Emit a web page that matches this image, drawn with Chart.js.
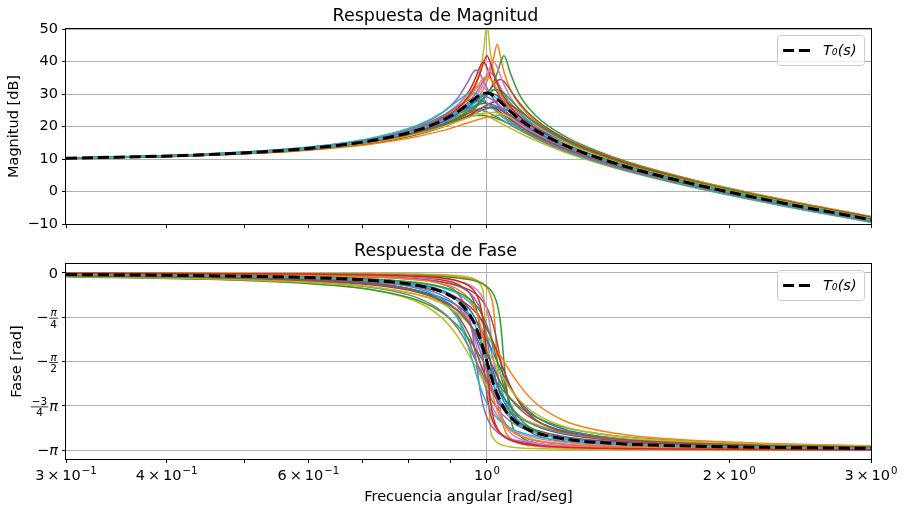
<!DOCTYPE html>
<html>
<head>
<meta charset="utf-8">
<script src="https://cdn.jsdelivr.net/npm/chart.js@4.4.0/dist/chart.umd.min.js"></script>
<style>
  body { margin: 0; background: #fff; }
  canvas { position: absolute; left: 0; }
  #magChart { top: 0; }
  #phaseChart { top: 240px; }
</style>
</head>
<body>
<canvas id="magChart" width="905" height="240"></canvas>
<canvas id="phaseChart" width="905" height="272"></canvas>
<script>
// angular frequency samples [rad/seg]
const freq = [0.3, 0.45, 0.6, 0.72, 0.82, 0.88, 0.92, 0.95, 0.96, 0.97, 0.98, 0.99, 1.0,
              1.01, 1.02, 1.03, 1.04, 1.05, 1.07, 1.1, 1.15, 1.25, 1.45, 1.8, 2.3, 3.0];

const freqTicks = [0.3, 0.4, 0.5, 0.6, 0.7, 0.8, 0.9, 1, 2, 3];
// [mantissa, exponent] of each tick label, null = unlabelled minor tick
const freqTickLabels = [['3', '−1'], ['4', '−1'], null, ['6', '−1'], null, null, null,
                        ['', '0'], ['2', '0'], ['3', '0']];

const phaseTicks = [0, -Math.PI / 4, -Math.PI / 2, -3 * Math.PI / 4, -Math.PI];
const phaseTickLabels = [
  { lead: '0' },
  { lead: '−', num: 'π', den: '4' },
  { lead: '−', num: 'π', den: '2' },
  { num: '−3', den: '4', tail: 'π' },
  { lead: '−π' }
];

// nominal T0(s)
const magNominal = [10.22, 11.35, 13.25, 15.67, 18.88, 21.83, 24.56, 27.14, 28.06, 28.94, 29.69, 30.19, 30.32,
                    30.02, 29.37, 28.5, 27.52, 26.51, 24.59, 22.08, 18.8, 14.23, 8.49, 2.37, -3.26, -8.67];
const phaseNominal = [-0.030, -0.051, -0.084, -0.134, -0.222, -0.338, -0.495, -0.720, -0.834, -0.976, -1.149, -1.351, -1.571,
                      -1.789, -1.986, -2.152, -2.288, -2.397, -2.554, -2.701, -2.831, -2.944, -3.024, -3.069, -3.093, -3.108];

// perturbed plants (magnitude, dB)
const magRuns = [
  [10.22, 11.36, 13.28, 15.75, 19.09, 22.33, 25.67, 29.62, 31.51, 33.9, 37.28, 42.78, 51.34, 42.69, 37.1, 33.63, 31.12, 29.17, 26.18, 22.96, 19.23, 14.4, 8.55, 2.4, -3.25, -8.66],
  [10.17, 11.24, 13.0, 15.23, 18.13, 20.77, 23.28, 25.92, 26.98, 28.25, 29.76, 31.59, 33.91, 37.02, 41.45, 45.32, 41.33, 36.84, 31.24, 26.38, 21.54, 15.91, 9.56, 3.15, -2.61, -8.08],
  [10.14, 11.16, 12.83, 14.92, 17.58, 19.93, 22.08, 24.16, 25.02, 25.98, 27.07, 28.32, 29.77, 31.54, 33.71, 36.44, 39.74, 41.8, 36.22, 29.34, 23.33, 16.99, 10.25, 3.65, -2.19, -7.7],
  [10.24, 11.41, 13.38, 15.94, 19.46, 22.89, 26.53, 30.89, 32.96, 35.48, 38.31, 39.86, 38.16, 35.25, 32.65, 30.5, 28.71, 27.2, 24.73, 21.91, 18.49, 13.92, 8.22, 2.14, -3.46, -8.86],
  [10.2, 11.32, 13.18, 15.56, 18.7, 21.66, 24.54, 27.64, 28.95, 30.47, 32.2, 34.09, 35.81, 36.53, 35.65, 33.82, 31.85, 30.05, 27.06, 23.72, 19.84, 14.84, 8.88, 2.65, -3.04, -8.47],
  [10.16, 11.2, 12.92, 15.05, 17.78, 20.21, 22.43, 24.62, 25.5, 26.47, 27.54, 28.74, 30.06, 31.48, 32.9, 34.03, 34.44, 33.87, 31.11, 26.95, 22.12, 16.34, 9.88, 3.39, -2.4, -7.89],
  [10.26, 11.46, 13.46, 16.09, 19.7, 23.22, 26.75, 30.24, 31.38, 32.23, 32.5, 32.06, 31.08, 29.82, 28.52, 27.26, 26.09, 25.0, 23.09, 20.73, 17.67, 13.37, 7.86, 1.89, -3.68, -9.06],
  [10.19, 11.28, 13.07, 15.34, 18.29, 20.94, 23.38, 25.76, 26.68, 27.66, 28.67, 29.67, 30.56, 31.17, 31.34, 31.0, 30.25, 29.25, 27.06, 24.09, 20.28, 15.23, 9.17, 2.9, -2.82, -8.27],
  [10.27, 11.49, 13.54, 16.21, 19.85, 23.24, 26.18, 28.17, 28.51, 28.57, 28.34, 27.83, 27.15, 26.35, 25.5, 24.64, 23.81, 23.0, 21.5, 19.52, 16.81, 12.81, 7.49, 1.61, -3.9, -9.26],
  [10.21, 11.34, 13.21, 15.59, 18.66, 21.34, 23.61, 25.46, 26.03, 26.52, 26.9, 27.11, 27.12, 26.94, 26.56, 26.05, 25.43, 24.76, 23.34, 21.3, 18.38, 14.05, 8.43, 2.35, -3.27, -8.67],
  [10.16, 11.21, 12.92, 15.05, 17.69, 19.89, 21.7, 23.23, 23.74, 24.25, 24.73, 25.16, 25.51, 25.76, 25.89, 25.88, 25.72, 25.44, 24.55, 22.83, 19.91, 15.31, 9.36, 3.08, -2.64, -8.1],
  [10.28, 11.51, 13.56, 16.18, 19.54, 22.18, 23.79, 24.33, 24.29, 24.15, 23.89, 23.55, 23.13, 22.65, 22.14, 21.61, 21.06, 20.52, 19.44, 17.92, 15.68, 12.09, 7.05, 1.31, -4.15, -9.47],
  [10.22, 11.35, 13.22, 15.54, 18.4, 20.61, 22.14, 23.06, 23.25, 23.38, 23.42, 23.38, 23.25, 23.04, 22.75, 22.4, 22.01, 21.58, 20.65, 19.21, 16.94, 13.2, 7.95, 2.04, -3.51, -8.88],
  [10.12, 11.12, 12.71, 14.64, 16.93, 18.73, 20.12, 21.23, 21.59, 21.95, 22.28, 22.6, 22.87, 23.11, 23.28, 23.39, 23.42, 23.38, 23.06, 22.12, 19.96, 15.77, 9.86, 3.52, -2.25, -7.73],
  [10.27, 11.5, 13.58, 16.34, 20.23, 24.26, 28.79, 34.36, 36.41, 37.36, 36.26, 34.07, 31.89, 29.95, 28.28, 26.83, 25.56, 24.43, 22.5, 20.16, 17.18, 12.98, 7.56, 1.64, -3.9, -9.26],
  [10.19, 11.28, 13.09, 15.38, 18.41, 21.2, 23.89, 26.77, 27.99, 29.42, 31.11, 33.16, 35.65, 38.39, 39.86, 38.2, 35.42, 32.87, 28.96, 24.99, 20.67, 15.37, 9.21, 2.89, -2.82, -8.27],
  [10.25, 11.43, 13.42, 15.98, 19.4, 22.48, 25.12, 27.05, 27.51, 27.78, 27.82, 27.61, 27.18, 26.57, 25.87, 25.11, 24.33, 23.55, 22.07, 20.07, 17.31, 13.2, 7.8, 1.85, -3.7, -9.06],
  [10.2, 11.31, 13.15, 15.49, 18.55, 21.33, 23.94, 26.29, 27.19, 28.1, 28.97, 29.71, 30.19, 30.32, 30.02, 29.4, 28.53, 27.56, 25.59, 22.94, 19.47, 14.7, 8.82, 2.62, -3.05, -8.47],
  [10.15, 11.18, 12.87, 14.96, 17.58, 19.81, 21.72, 23.44, 24.07, 24.71, 25.36, 26.01, 26.62, 27.15, 27.55, 27.79, 27.82, 27.63, 26.68, 24.6, 21.13, 16.01, 9.77, 3.35, -2.42, -7.9],
  [10.29, 11.54, 13.66, 16.48, 20.42, 24.3, 27.91, 30.18, 30.32, 30.0, 29.2, 28.38, 27.35, 26.31, 25.29, 24.32, 23.42, 22.56, 21.03, 19.05, 16.37, 12.43, 7.2, 1.37, -4.12, -9.46],
  [10.22, 11.36, 13.27, 15.72, 19.03, 22.17, 25.3, 28.69, 30.13, 31.73, 33.41, 34.85, 35.42, 34.69, 33.13, 31.36, 29.68, 28.17, 25.62, 22.67, 19.09, 14.34, 8.53, 2.39, -3.25, -8.66],
  [10.17, 11.23, 12.98, 15.17, 18.0, 20.5, 22.77, 24.93, 25.82, 26.77, 27.71, 28.68, 29.7, 30.57, 31.18, 31.34, 31.0, 30.27, 28.21, 25.08, 21.02, 15.73, 9.3, 3.13, -2.62, -8.09],
  [10.26, 11.47, 13.48, 16.06, 19.41, 22.21, 24.2, 25.21, 25.33, 25.32, 25.16, 24.87, 24.47, 23.98, 23.44, 22.86, 22.26, 21.65, 20.47, 18.8, 16.38, 12.6, 7.41, 1.58, -3.93, -9.27],
  [10.17, 11.24, 12.98, 15.12, 17.75, 19.88, 21.54, 22.8, 23.2, 23.55, 23.86, 24.1, 24.26, 24.33, 24.29, 24.16, 23.93, 23.61, 22.8, 21.35, 18.81, 14.88, 8.96, 2.8, -2.87, -8.29],
  [10.22, 11.36, 13.27, 15.74, 19.08, 22.3, 25.58, 29.39, 31.15, 33.34, 36.13, 39.57, 41.8, 39.43, 35.92, 33.05, 30.78, 28.93, 26.04, 22.89, 19.2, 14.39, 8.55, 2.4, -3.25, -8.66],
  [10.23, 11.4, 13.34, 15.84, 19.17, 22.24, 25.05, 27.5, 28.27, 28.91, 29.31, 29.4, 29.14, 28.58, 27.82, 26.94, 26.02, 25.12, 23.4, 21.11, 18.08, 13.73, 8.15, 2.12, -3.48, -8.86],
  [10.19, 11.29, 13.1, 15.36, 18.23, 20.64, 22.59, 24.19, 24.66, 25.12, 25.49, 25.76, 25.89, 25.88, 25.72, 25.42, 25.01, 24.51, 23.36, 21.52, 18.72, 14.39, 8.71, 2.58, -3.06, -8.48]
];

// perturbed plants (phase, rad)
const phaseRuns = [
  [-0.003, -0.005, -0.008, -0.012, -0.020, -0.031, -0.048, -0.078, -0.097, -0.13, -0.196, -0.379, -1.571, -2.76, -2.942, -3.007, -3.043, -3.06, -3.083, -3.10, -3.113, -3.124, -3.131, -3.135, -3.138, -3.138],
  [-0.005, -0.009, -0.014, -0.022, -0.035, -0.051, -0.071, -0.098, -0.113, -0.132, -0.159, -0.199, -0.264, -0.387, -0.687, -1.571, -2.45, -2.747, -2.935, -3.021, -3.069, -3.10, -3.119, -3.128, -3.132, -3.135],
  [-0.007, -0.013, -0.020, -0.031, -0.048, -0.068, -0.090, -0.119, -0.133, -0.150, -0.172, -0.201, -0.241, -0.30, -0.393, -0.559, -0.898, -1.571, -2.575, -2.889, -3.011, -3.073, -3.105, -3.12, -3.128, -3.132],
  [-0.010, -0.017, -0.029, -0.046, -0.079, -0.126, -0.202, -0.349, -0.453, -0.633, -0.976, -1.571, -2.161, -2.498, -2.676, -2.779, -2.846, -2.892, -2.951, -3.0, -3.042, -3.078, -3.103, -3.118, -3.126, -3.13],
  [-0.014, -0.024, -0.040, -0.064, -0.104, -0.158, -0.231, -0.345, -0.409, -0.499, -0.631, -0.833, -1.146, -1.571, -1.992, -2.299, -2.497, -2.627, -2.777, -2.89, -2.974, -3.04, -3.082, -3.106, -3.118, -3.125],
  [-0.018, -0.030, -0.048, -0.074, -0.116, -0.165, -0.224, -0.30, -0.336, -0.382, -0.44, -0.517, -0.62, -0.763, -0.965, -1.238, -1.571, -1.90, -2.364, -2.679, -2.87, -2.991, -3.059, -3.093, -3.11, -3.12],
  [-0.024, -0.041, -0.068, -0.111, -0.193, -0.314, -0.505, -0.844, -1.038, -1.286, -1.571, -1.853, -2.094, -2.282, -2.423, -2.529, -2.61, -2.672, -2.763, -2.848, -2.927, -3.0, -3.055, -3.087, -3.105, -3.116],
  [-0.026, -0.044, -0.072, -0.112, -0.18, -0.264, -0.369, -0.512, -0.583, -0.672, -0.785, -0.929, -1.111, -1.329, -1.571, -1.81, -2.023, -2.198, -2.445, -2.655, -2.82, -2.949, -3.031, -3.075, -3.098, -3.111],
  [-0.038, -0.065, -0.11, -0.18, -0.315, -0.514, -0.805, -1.209, -1.385, -1.571, -1.755, -1.926, -2.076, -2.205, -2.311, -2.40, -2.474, -2.536, -2.631, -2.73, -2.83, -2.93, -3.009, -3.058, -3.085, -3.102],
  [-0.043, -0.073, -0.121, -0.192, -0.315, -0.469, -0.662, -0.902, -1.01, -1.133, -1.27, -1.417, -1.571, -1.723, -1.867, -1.998, -2.114, -2.215, -2.377, -2.544, -2.708, -2.86, -2.972, -3.038, -3.072, -3.093],
  [-0.048, -0.081, -0.132, -0.202, -0.315, -0.443, -0.585, -0.747, -0.816, -0.895, -0.985, -1.084, -1.195, -1.315, -1.442, -1.571, -1.699, -1.822, -2.041, -2.291, -2.545, -2.774, -2.93, -3.015, -3.058, -3.083],
  [-0.062, -0.108, -0.183, -0.30, -0.517, -0.802, -1.129, -1.455, -1.571, -1.685, -1.796, -1.90, -1.997, -2.085, -2.164, -2.235, -2.298, -2.355, -2.45, -2.559, -2.681, -2.817, -2.933, -3.008, -3.051, -3.077],
  [-0.067, -0.114, -0.189, -0.30, -0.486, -0.703, -0.938, -1.179, -1.272, -1.369, -1.47, -1.571, -1.671, -1.768, -1.861, -1.948, -2.029, -2.103, -2.232, -2.383, -2.554, -2.74, -2.891, -2.985, -3.036, -3.068],
  [-0.062, -0.105, -0.168, -0.253, -0.381, -0.513, -0.646, -0.784, -0.839, -0.9, -0.967, -1.039, -1.117, -1.2, -1.289, -1.381, -1.475, -1.571, -1.758, -2.006, -2.31, -2.623, -2.846, -2.966, -3.027, -3.062],
  [-0.014, -0.024, -0.040, -0.066, -0.118, -0.202, -0.362, -0.765, -1.093, -1.571, -2.044, -2.367, -2.56, -2.682, -2.763, -2.82, -2.862, -2.895, -2.941, -2.984, -3.025, -3.064, -3.093, -3.111, -3.121, -3.127],
  [-0.010, -0.016, -0.027, -0.042, -0.068, -0.101, -0.144, -0.208, -0.242, -0.29, -0.359, -0.465, -0.649, -0.99, -1.571, -2.148, -2.484, -2.664, -2.838, -2.946, -3.018, -3.068, -3.1, -3.117, -3.125, -3.13],
  [-0.041, -0.070, -0.117, -0.189, -0.323, -0.508, -0.76, -1.092, -1.24, -1.402, -1.571, -1.739, -1.895, -2.037, -2.159, -2.263, -2.352, -2.426, -2.543, -2.664, -2.784, -2.902, -2.993, -3.049, -3.079, -3.098],
  [-0.029, -0.050, -0.082, -0.130, -0.211, -0.315, -0.448, -0.633, -0.725, -0.839, -0.981, -1.153, -1.353, -1.571, -1.786, -1.982, -2.148, -2.283, -2.48, -2.657, -2.809, -2.935, -3.02, -3.068, -3.093, -3.107],
  [-0.038, -0.064, -0.103, -0.158, -0.245, -0.343, -0.454, -0.585, -0.643, -0.71, -0.79, -0.883, -0.992, -1.117, -1.258, -1.411, -1.571, -1.729, -2.013, -2.323, -2.604, -2.828, -2.966, -3.038, -3.074, -3.094],
  [-0.031, -0.054, -0.092, -0.153, -0.277, -0.477, -0.813, -1.342, -1.571, -1.797, -2.0, -2.171, -2.308, -2.417, -2.503, -2.573, -2.63, -2.676, -2.749, -2.823, -2.899, -2.975, -3.036, -3.075, -3.096, -3.11],
  [-0.016, -0.028, -0.047, -0.075, -0.125, -0.193, -0.291, -0.453, -0.549, -0.687, -0.891, -1.189, -1.571, -1.95, -2.241, -2.44, -2.574, -2.668, -2.788, -2.885, -2.965, -3.031, -3.076, -3.101, -3.115, -3.123],
  [-0.025, -0.043, -0.070, -0.109, -0.172, -0.248, -0.34, -0.459, -0.517, -0.588, -0.677, -0.79, -0.934, -1.115, -1.332, -1.571, -1.808, -2.019, -2.332, -2.595, -2.794, -2.939, -3.027, -3.074, -3.097, -3.11],
  [-0.055, -0.094, -0.159, -0.259, -0.443, -0.687, -0.986, -1.316, -1.442, -1.571, -1.698, -1.821, -1.935, -2.039, -2.132, -2.215, -2.288, -2.352, -2.458, -2.576, -2.704, -2.839, -2.95, -3.021, -3.06, -3.084],
  [-0.058, -0.098, -0.16, -0.248, -0.389, -0.546, -0.717, -0.902, -0.978, -1.062, -1.152, -1.25, -1.354, -1.462, -1.571, -1.679, -1.783, -1.882, -2.059, -2.269, -2.499, -2.727, -2.896, -2.992, -3.043, -3.072],
  [-0.008, -0.014, -0.022, -0.036, -0.060, -0.093, -0.143, -0.23, -0.286, -0.375, -0.536, -0.874, -1.571, -2.263, -2.597, -2.756, -2.845, -2.90, -2.966, -3.017, -3.056, -3.088, -3.11, -3.122, -3.13, -3.135],
  [-0.033, -0.057, -0.096, -0.153, -0.258, -0.40, -0.598, -0.881, -1.019, -1.183, -1.371, -1.571, -1.769, -1.951, -2.109, -2.241, -2.349, -2.438, -2.57, -2.699, -2.821, -2.932, -3.014, -3.063, -3.089, -3.105],
  [-0.049, -0.083, -0.137, -0.214, -0.343, -0.497, -0.676, -0.886, -0.975, -1.077, -1.188, -1.31, -1.439, -1.571, -1.701, -1.826, -1.943, -2.049, -2.227, -2.421, -2.619, -2.806, -2.941, -3.019, -3.06, -3.085]
];

const runColors = ['#bcbd22', '#ff7f0e', '#2ca02c', '#d62728', '#9467bd', '#8c564b', '#e377c2', '#17becf',
                   '#7f7f7f', '#1f77b4', '#1f77b4', '#bcbd22', '#2ca02c', '#ff7f0e', '#9467bd', '#e377c2',
                   '#8c564b', '#1f77b4', '#d62728', '#17becf', '#ff7f0e', '#2ca02c', '#7f7f7f', '#bcbd22',
                   '#d62728', '#9467bd', '#8c564b'];

Chart.defaults.font.family = '"DejaVu Sans", sans-serif';
Chart.defaults.font.size = 14.5;
Chart.defaults.color = '#000';

function series(vals) {
  return freq.map((f, i) => ({ x: f, y: vals[i] }));
}

function buildDatasets(runs, nominal) {
  const ds = runs.map((vals, i) => ({
    data: series(vals),
    borderColor: runColors[i % runColors.length],
    borderWidth: 1.5,
    pointRadius: 0,
    cubicInterpolationMode: 'monotone',
    order: 100 - i
  }));
  ds.push({ data: series(nominal), borderColor: '#17becf', borderWidth: 1.5, pointRadius: 0,
            cubicInterpolationMode: 'monotone', order: 1 });
  ds.push({ data: series(nominal), borderColor: '#000', borderWidth: 3, borderDash: [11.1, 4.8],
            pointRadius: 0, cubicInterpolationMode: 'monotone', order: 0 });
  return ds;
}

// frame round the axes plus the T0(s) legend box
const frameAndLegend = {
  id: 'frameAndLegend',
  afterDatasetsDraw(chart) {
    const { ctx, chartArea: a } = chart;
    ctx.save();
    ctx.strokeStyle = '#000';
    ctx.lineWidth = 1;
    ctx.strokeRect(Math.round(a.left) - 0.5, Math.round(a.top) - 0.5,
                   Math.round(a.right - a.left) + 1, Math.round(a.bottom - a.top) + 1);

    const w = 87, h = 30, x = Math.round(a.right) - 7 - w, y = Math.round(a.top) + 6;
    ctx.beginPath();
    ctx.roundRect(x + 0.5, y + 0.5, w, h, 3);
    ctx.fillStyle = 'rgba(255,255,255,0.8)';
    ctx.fill();
    ctx.strokeStyle = '#cccccc';
    ctx.stroke();

    ctx.beginPath();
    ctx.setLineDash([11.1, 4.8]);
    ctx.lineWidth = 3;
    ctx.strokeStyle = '#000';
    ctx.moveTo(x + 6, y + h / 2 + 0.5);
    ctx.lineTo(x + 35, y + h / 2 + 0.5);
    ctx.stroke();
    ctx.setLineDash([]);

    ctx.fillStyle = '#000';
    ctx.font = 'italic 14.5px "DejaVu Sans"';
    ctx.textBaseline = 'middle';
    ctx.textAlign = 'left';
    ctx.fillText('T₀(s)', x + 46, y + h / 2 + 1);
    ctx.restore();
  }
};

// draws text right-aligned at xr, pi glyphs in italics; returns left edge
function drawRun(ctx, text, xr, py, size) {
  let x = xr;
  for (const ch of [...text].reverse()) {
    ctx.font = (ch === 'π' ? 'italic ' : '') + size + 'px "DejaVu Sans"';
    x -= ctx.measureText(ch).width;
    ctx.fillText(ch, x, py);
  }
  return x;
}

const fractionTicks = {
  id: 'fractionTicks',
  afterDraw(chart) {
    const { ctx } = chart;
    const yScale = chart.scales.y;
    const right = chart.chartArea.left - 8;
    ctx.save();
    ctx.fillStyle = '#000';
    ctx.strokeStyle = '#000';
    ctx.textAlign = 'left';
    phaseTicks.forEach((v, i) => {
      const lab = phaseTickLabels[i];
      const py = yScale.getPixelForValue(v);
      let x = right;
      ctx.textBaseline = 'middle';
      if (lab.tail) x = drawRun(ctx, lab.tail, x, py + 1, 14.5) - 1;
      if (lab.num) {
        ctx.font = '10.5px "DejaVu Sans"';
        const fw = Math.max(ctx.measureText(lab.num).width, ctx.measureText(lab.den).width) + 2;
        const cx = x - fw / 2;
        ctx.lineWidth = 0.8;
        ctx.beginPath();
        ctx.moveTo(x - fw, py + 1);
        ctx.lineTo(x, py + 1);
        ctx.stroke();
        ctx.textBaseline = 'alphabetic';
        drawRun(ctx, lab.num, cx + ctx.measureText(lab.num).width / 2, py - 1, 10.5);
        ctx.font = '10.5px "DejaVu Sans"';
        ctx.textBaseline = 'top';
        drawRun(ctx, lab.den, cx + ctx.measureText(lab.den).width / 2, py + 2.5, 10.5);
        x -= fw + 1;
      }
      ctx.textBaseline = 'middle';
      if (lab.lead) drawRun(ctx, lab.lead, x, py + 1, 14.5);
    });
    ctx.restore();
  }
};

// "3 × 10^-1" style labels under the frequency axis
const freqLabels = {
  id: 'freqLabels',
  afterDraw(chart) {
    const { ctx } = chart;
    const xScale = chart.scales.x;
    const base = chart.chartArea.bottom + 21;
    ctx.save();
    ctx.fillStyle = '#000';
    ctx.textBaseline = 'alphabetic';
    ctx.textAlign = 'left';
    freqTicks.forEach((v, i) => {
      const lab = freqTickLabels[i];
      if (!lab) return;
      const main = lab[0] ? lab[0] + '\u2009×\u200910' : '10';
      ctx.font = '14.5px "DejaVu Sans"';
      const wm = ctx.measureText(main).width;
      ctx.font = '10.2px "DejaVu Sans"';
      const we = ctx.measureText(lab[1]).width;
      const x0 = xScale.getPixelForValue(v) - (wm + we + 1) / 2;
      ctx.font = '14.5px "DejaVu Sans"';
      ctx.fillText(main, x0, base);
      ctx.font = '10.2px "DejaVu Sans"';
      ctx.fillText(lab[1], x0 + wm + 1, base - 6.5);
    });
    ctx.restore();
  }
};

function xAxis(showTitle, height) {
  return {
    type: 'logarithmic',
    min: 0.3,
    max: 3,
    afterBuildTicks: s => { s.ticks = freqTicks.map(v => ({ value: v })); },
    afterFit: s => { s.height = height; },
    ticks: { autoSkip: false, maxRotation: 0, callback: () => '' },
    grid: {
      color: c => (c.tick && c.tick.value === 1) ? '#b0b0b0' : 'rgba(0,0,0,0)',
      tickColor: '#000',
      tickLength: 4,
      lineWidth: 1
    },
    border: { display: false },
    title: {
      display: showTitle,
      text: 'Frecuencia angular [rad/seg]',
      padding: { top: 0, bottom: 6.3 }
    }
  };
}

function baseOptions(titleText, titlePadding, xScale, yScale) {
  return {
    responsive: false,
    animation: false,
    devicePixelRatio: 1,
    events: [],
    layout: { padding: { left: 0, right: 34, top: 0, bottom: 0 } },
    plugins: {
      legend: { display: false },
      tooltip: { enabled: false },
      title: {
        display: true,
        text: titleText,
        font: { size: 17.5, weight: 'normal' },
        padding: titlePadding
      }
    },
    scales: { x: xScale, y: yScale }
  };
}

new Chart(document.getElementById('magChart'), {
  type: 'line',
  data: { datasets: buildDatasets(magRuns, magNominal) },
  options: baseOptions('Respuesta de Magnitud', { top: 5.5, bottom: 2.5 }, xAxis(false, 16), {
    min: -10,
    max: 50,
    afterFit: s => { s.width = 66; },
    ticks: {
      stepSize: 10,
      padding: 4,
      callback: v => v < 0 ? '−' + Math.abs(v) : String(v)
    },
    grid: { color: '#b0b0b0', tickColor: '#000', tickLength: 4, lineWidth: 1 },
    border: { display: false },
    title: { display: true, text: 'Magnitud [dB]', padding: { top: 5.3, bottom: 0 } }
  }),
  plugins: [frameAndLegend]
});

new Chart(document.getElementById('phaseChart'), {
  type: 'line',
  data: { datasets: buildDatasets(phaseRuns, phaseNominal) },
  options: baseOptions('Respuesta de Fase', { top: 0.5, bottom: 2.5 }, xAxis(true, 53), {
    min: -3.297,
    max: 0.157,
    afterFit: s => { s.width = 66; },
    afterBuildTicks: s => { s.ticks = phaseTicks.map(v => ({ value: v })); },
    ticks: { callback: () => '' },
    grid: { color: '#b0b0b0', tickColor: '#000', tickLength: 4, lineWidth: 1 },
    border: { display: false },
    title: { display: true, text: 'Fase [rad]', padding: { top: 8.3, bottom: 0 } }
  }),
  plugins: [frameAndLegend, fractionTicks, freqLabels]
});
</script>
</body>
</html>
